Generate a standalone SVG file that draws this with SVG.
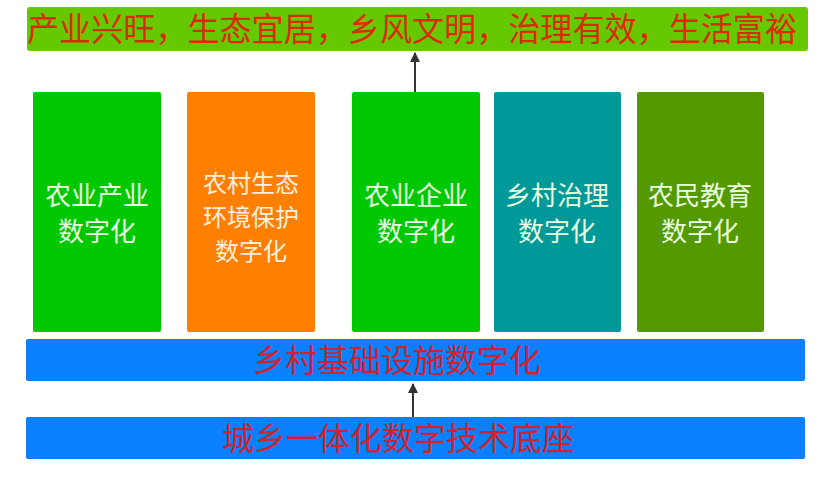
<svg xmlns="http://www.w3.org/2000/svg" width="831" height="486" viewBox="0 0 831 486">
<defs>
<style>
.lbl{font-family:"Noto Sans CJK SC","Microsoft YaHei",sans-serif;}
.in{fill:#e8ffe0;font-size:26px;text-anchor:middle;}
.in2{fill:#fff0e0;font-size:24px;text-anchor:middle;}
.red{fill:#d0222e;font-size:32px;text-anchor:middle;}
.conn{stroke:#333;stroke-width:2;fill:none;marker-end:url(#ah);}
</style>
<marker id="ah" viewBox="0 0 10 10" refX="9" refY="5" markerWidth="5" markerHeight="6" orient="auto" markerUnits="strokeWidth">
<path d="M0,0 L10,5 L0,10 z" fill="#333"/>
</marker>
</defs>
<rect width="831" height="486" fill="#fff"/>
<g id="goal">
<rect x="27" y="7" width="781" height="44" rx="3" fill="#66c800"/>
<text class="lbl" x="412" y="41" font-size="33" fill="#dd2a00" text-anchor="middle" textLength="770" lengthAdjust="spacingAndGlyphs">产业兴旺，生态宜居，乡风文明，治理有效，生活富裕</text>
</g>
<g id="n1">
<rect x="33" y="92" width="128" height="240" rx="2" fill="#00c800"/>
<text class="lbl in" x="97" y="205">农业产业</text>
<text class="lbl in" x="97" y="241">数字化</text>
</g>
<g id="n2">
<rect x="187" y="92" width="128" height="240" rx="2" fill="#ff8000"/>
<text class="lbl in2" x="251" y="192">农村生态</text>
<text class="lbl in2" x="251" y="226">环境保护</text>
<text class="lbl in2" x="251" y="260">数字化</text>
</g>
<g id="n3">
<rect x="352" y="92" width="128" height="240" rx="2" fill="#00c800"/>
<text class="lbl in" x="416" y="205">农业企业</text>
<text class="lbl in" x="416" y="241">数字化</text>
</g>
<g id="n4">
<rect x="494" y="92" width="127" height="240" rx="2" fill="#009999"/>
<text class="lbl in" x="557" y="205">乡村治理</text>
<text class="lbl in" x="557" y="241">数字化</text>
</g>
<g id="n5">
<rect x="637" y="92" width="127" height="240" rx="2" fill="#559900"/>
<text class="lbl in" x="700" y="205">农民教育</text>
<text class="lbl in" x="700" y="241">数字化</text>
</g>
<g id="infra">
<rect x="26" y="339" width="779" height="42" rx="2" fill="#0a80ff"/>
<text class="lbl red" x="397" y="372">乡村基础设施数字化</text>
</g>
<g id="base">
<rect x="26" y="417" width="779" height="42" rx="2" fill="#0a80ff"/>
<text class="lbl red" x="398" y="450">城乡一体化数字技术底座</text>
</g>
<g id="connectors">
<path class="conn" d="M415,92 L415,53"/>
<path class="conn" d="M413,417 L413,384"/>
</g>
</svg>
